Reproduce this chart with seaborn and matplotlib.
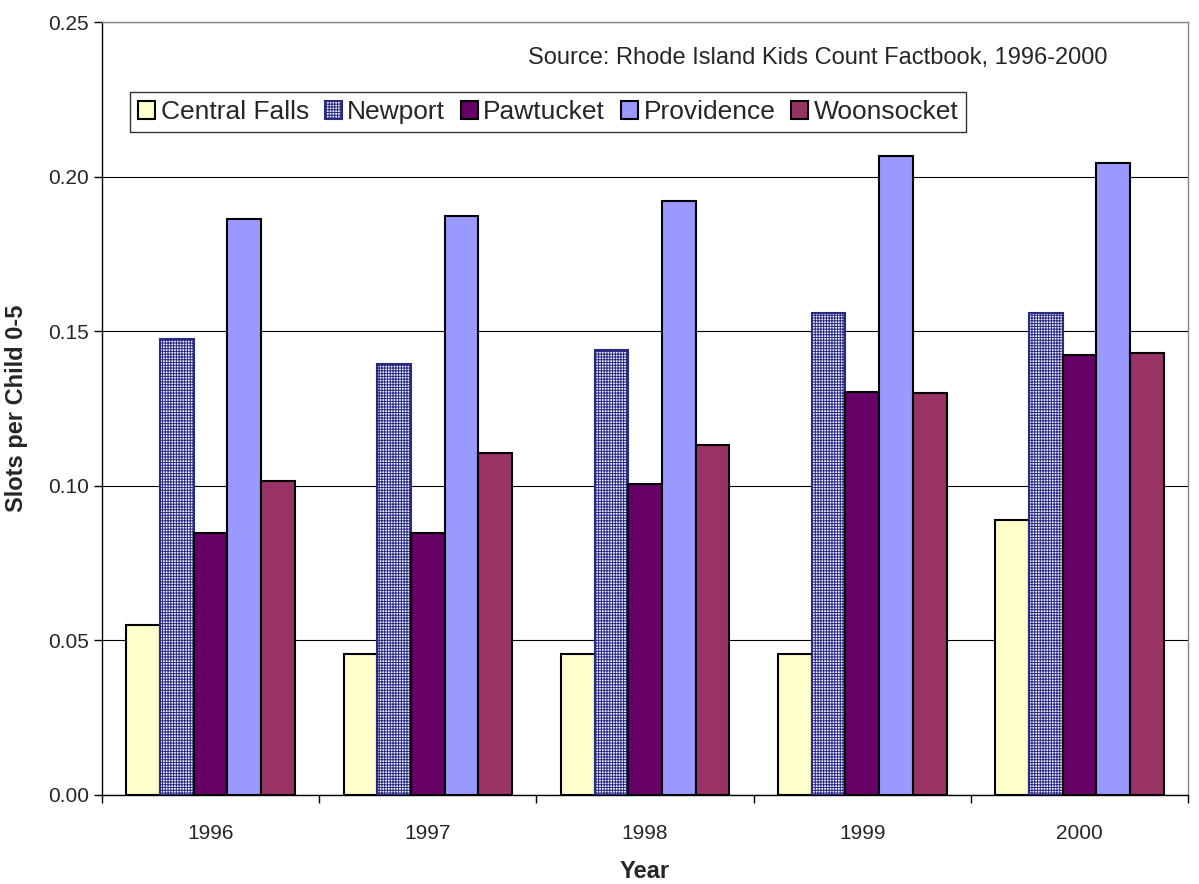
import matplotlib.pyplot as plt
import numpy as np
import pandas as pd
import seaborn as sns

years = ["1996", "1997", "1998", "1999", "2000"]
cities = ["Central Falls", "Newport", "Pawtucket", "Providence", "Woonsocket"]
central_falls = [0.055, 0.0456, 0.0456, 0.0456, 0.0889]
newport = [0.1475, 0.1394, 0.1439, 0.1559, 0.1559]
pawtucket = [0.0847, 0.0847, 0.1006, 0.1303, 0.1423]
providence = [0.1863, 0.1873, 0.1921, 0.2067, 0.2044]
woonsocket = [0.1016, 0.1106, 0.1132, 0.1300, 0.1429]

colors = ["#FFFFCC", "#C4C4EE", "#660066", "#9999FF", "#993366"]


def build_frame():
    series = [central_falls, newport, pawtucket, providence, woonsocket]
    rows = []
    for city, vals in zip(cities, series):
        for yr, v in zip(years, vals):
            rows.append({"Year": yr, "City": city, "Slots": v})
    return pd.DataFrame(rows)


def checker(patch):
    patch.set_hatch("++++++")
    patch.set_facecolor("#EEEEFF")
    patch.set_edgecolor("#2A2A80")


df = build_frame()

sns.set_style("white")
plt.rcParams["font.family"] = ["Liberation Sans", "DejaVu Sans"]
plt.rcParams["hatch.linewidth"] = 0.7

fig = plt.figure(figsize=(11.99, 8.84), dpi=100)
ax = fig.add_axes([0.085, 0.1007, 0.906, 0.8744])

sns.barplot(
    data=df, x="Year", y="Slots", hue="City", hue_order=cities, order=years,
    palette=colors, width=0.775, edgecolor="black", linewidth=1.5,
    saturation=1, errorbar=None, ax=ax, zorder=3,
)

# Newport bars get the fine checker pattern
n_years = len(years)
for p in ax.patches[n_years:2 * n_years]:
    checker(p)

ax.set_ylim(0, 0.25)
ax.set_xlim(-0.5, len(years) - 0.5)
ax.set_yticks(np.arange(0, 0.251, 0.05))
ax.set_yticklabels([f"{v:.2f}" for v in np.arange(0, 0.251, 0.05)])
ax.yaxis.grid(True, color="black", linewidth=0.8, zorder=0)
ax.set_axisbelow(True)
ax.tick_params(axis="y", direction="out", length=6, width=1, labelsize=15, left=True, color="black")
ax.tick_params(axis="x", which="major", length=0, labelsize=15, pad=21)
ax.set_xticks(np.arange(-0.5, len(years), 1), minor=True)
ax.tick_params(axis="x", which="minor", direction="out", length=6, width=1, bottom=True, color="black")

for s in ax.spines.values():
    s.set_color("black")
    s.set_linewidth(1)
ax.spines["top"].set_color("#888888")
ax.spines["right"].set_color("#888888")

ax.set_xlabel("Year", fontsize=17, fontweight="bold", labelpad=12)
ax.set_ylabel("Slots per Child 0-5", fontsize=17, fontweight="bold", labelpad=14)

ax.text(0.926, 0.953, "Source: Rhode Island Kids Count Factbook, 1996-2000",
        transform=ax.transAxes, ha="right", va="center", fontsize=17)

handles, labels = ax.get_legend_handles_labels()
leg = ax.legend(handles, labels, loc="upper left", bbox_to_anchor=(0.026, 0.909),
                ncol=5, fontsize=19, frameon=True, fancybox=False,
                handlelength=0.65, handleheight=0.65, handletextpad=0.2,
                columnspacing=0.6, borderpad=0.3, borderaxespad=0)
leg.get_frame().set_edgecolor("black")
leg.get_frame().set_linewidth(1)
checker(leg.get_patches()[1])

fig.savefig("out.png", dpi=100)
